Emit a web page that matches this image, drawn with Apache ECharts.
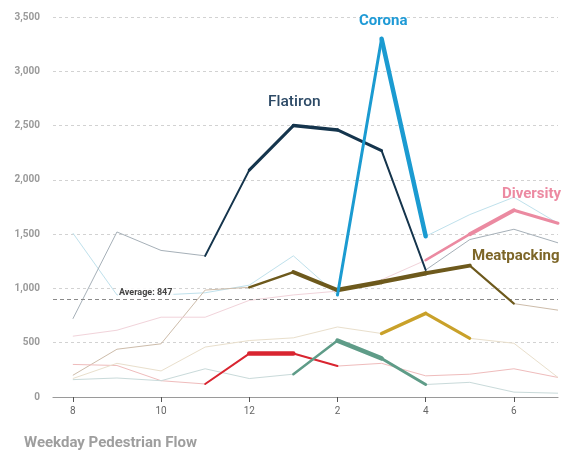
<!DOCTYPE html>
<html>
<head>
<meta charset="utf-8">
<script src="https://cdn.jsdelivr.net/npm/echarts@6/dist/echarts.min.js"></script>
<style>
html,body{margin:0;padding:0;background:#fff;}
#c{width:561px;height:453px;}
</style>
</head>
<body>
<div id="c"></div>
<script>
// Hours of the weekday (24h) and their tick labels
const hours = [8, 9, 10, 11, 12, 13, 14, 15, 16, 17, 18, 19];
const tickHours = [8, 10, 12, 14, 16, 18];
const yTicks = [0, 500, 1000, 1500, 2000, 2500, 3000, 3500];

// Pedestrian counts per neighbourhood
const flatiron    = [720, 1520, 1350, 1300, 2090, 2500, 2460, 2270, 1170, 1450, 1545, 1420];
const corona      = [1510, 940, 940, 960, 1030, 1300, 940, 3300, 1480, 1680, 1840, 1600];
const meatpacking = [200, 440, 490, 985, 1010, 1150, 985, 1060, 1140, 1210, 860, 800];
const diversity   = [560, 615, 735, 735, 890, 940, 975, 1080, 1260, 1500, 1720, 1600];
const redArea     = [300, 290, 150, 120, 400, 400, 285, 310, 195, 210, 260, 180];
const greenArea   = [160, 175, 150, 260, 170, 210, 520, 355, 115, 135, 45, 35];
const goldArea    = [170, 310, 240, 460, 520, 545, 645, 585, 770, 540, 495, 180];

// Highlighted ranges (index into hours, inclusive)
const hlFlatiron = [3, 8];
const hlCorona = [6, 8];
const hlMeat = [4, 10];
const hlDiversity = [8, 11];
const hlRed = [3, 6];
const hlGreen = [5, 8];
const hlGold = [7, 9];

const averageLabel = 'Average: 847';
const averageLevel = 900;

function pts(arr) { return hours.map((h, i) => [h, arr[i]]); }

function faint(name, arr, color) {
  return { name: name, type: 'line', data: pts(arr), symbol: 'none', silent: true,
    lineStyle: { color: color, width: 1 }, z: 2 };
}
// highlighted range drawn as one series per segment so the stroke can taper
function bold(name, arr, r, color, widths, z) {
  const out = [];
  for (let i = r[0]; i < r[1]; i++) {
    out.push({ name: name + '-hl' + i, type: 'line', symbol: 'none', silent: true,
      data: [[hours[i], arr[i]], [hours[i + 1], arr[i + 1]]],
      lineStyle: { color: color, width: widths[i - r[0]], cap: 'round', join: 'round' },
      z: z });
  }
  return out;
}

const chart = echarts.init(document.getElementById('c'), null, { renderer: 'canvas' });
const FONT = 'Roboto, "DejaVu Sans", sans-serif';

const series = [
  faint('Corona', corona, '#bfe1ec'),
  faint('Flatiron', flatiron, '#a6b0b8'),
  faint('Meatpacking', meatpacking, '#cdbcaa'),
  faint('Diversity', diversity, '#f1d3da'),
  faint('Red', redArea, '#efbcbc'),
  faint('Green', greenArea, '#c9dada'),
  faint('Gold', goldArea, '#e9dfcc'),
  {
    name: 'avg', type: 'line', data: [], silent: true,
    markLine: {
      silent: true, symbol: 'none',
      label: { show: false },
      lineStyle: { color: '#8a8a8a', type: [4, 3], width: 1 },
      data: [{ yAxis: averageLevel }]
    }
  }
].concat(
  bold('Red', redArea, hlRed, '#d92530', [2, 4.5, 2], 5),
  bold('Green', greenArea, hlGreen, '#5f9c88', [2.5, 4.5, 3], 5),
  bold('Gold', goldArea, hlGold, '#c9a12a', [3.5, 3], 5),
  bold('Diversity', diversity, hlDiversity, '#eb8aa1', [2.5, 4, 3], 6),
  bold('Meatpacking', meatpacking, hlMeat, '#6d591c', [2.5, 4, 4.5, 4.5, 4, 2], 6),
  bold('Flatiron', flatiron, hlFlatiron, '#15354d', [2, 3, 3.5, 3, 2], 7),
  bold('Corona', corona, hlCorona, '#1b9bd1', [3, 4.5], 8)
);

chart.setOption({
  animation: false,
  backgroundColor: '#fff',
  grid: { left: 53, right: 3, top: 17, bottom: 56, containLabel: false },
  xAxis: {
    type: 'value', min: 7.55, max: 19,
    axisLine: { show: true, lineStyle: { color: '#9a9a9a', width: 1.2 } },
    axisTick: { show: true, customValues: tickHours, length: 5, lineStyle: { color: '#555' } },
    axisLabel: {
      customValues: tickHours, color: '#666', fontSize: 10, fontFamily: FONT, margin: 9,
      formatter: v => String(v > 12 ? v - 12 : v)
    },
    splitLine: { show: false }
  },
  yAxis: {
    type: 'value', min: 0, max: 3500, interval: 500,
    axisLine: { show: false }, axisTick: { show: false },
    axisLabel: {
      color: '#9a9a9a', fontSize: 10, fontWeight: 'bold', fontFamily: FONT, margin: 13,
      formatter: v => v.toLocaleString('en-US')
    },
    splitLine: { show: true, lineStyle: { color: '#d2d2d2', type: [3, 3], width: 1 } }
  },
  series: series,
  graphic: [
    { type: 'text', left: 118, top: 287, z: 20,
      style: { text: averageLabel, fill: '#444', font: 'bold 9px ' + FONT,
        backgroundColor: 'rgba(255,255,255,0.85)', padding: [1, 1] } },
    { type: 'text', left: 359, top: 14, z: 20,
      style: { text: 'Corona', fill: '#1e9ad6', font: 'bold 15px ' + FONT } },
    { type: 'text', left: 268, top: 94, z: 20,
      style: { text: 'Flatiron', fill: '#2d4a66', font: '500 15.5px ' + FONT } },
    { type: 'text', left: 502, top: 187, z: 20,
      style: { text: 'Diversity', fill: '#ec8aa2', font: 'bold 15px ' + FONT } },
    { type: 'text', left: 472, top: 249, z: 20,
      style: { text: 'Meatpacking', fill: '#7d6628', font: 'bold 15px ' + FONT } },
    { type: 'text', left: 24, top: 436, z: 20,
      style: { text: 'Weekday Pedestrian Flow', fill: '#9e9e9e', font: 'bold 15px ' + FONT } }
  ]
});
</script>
</body>
</html>
